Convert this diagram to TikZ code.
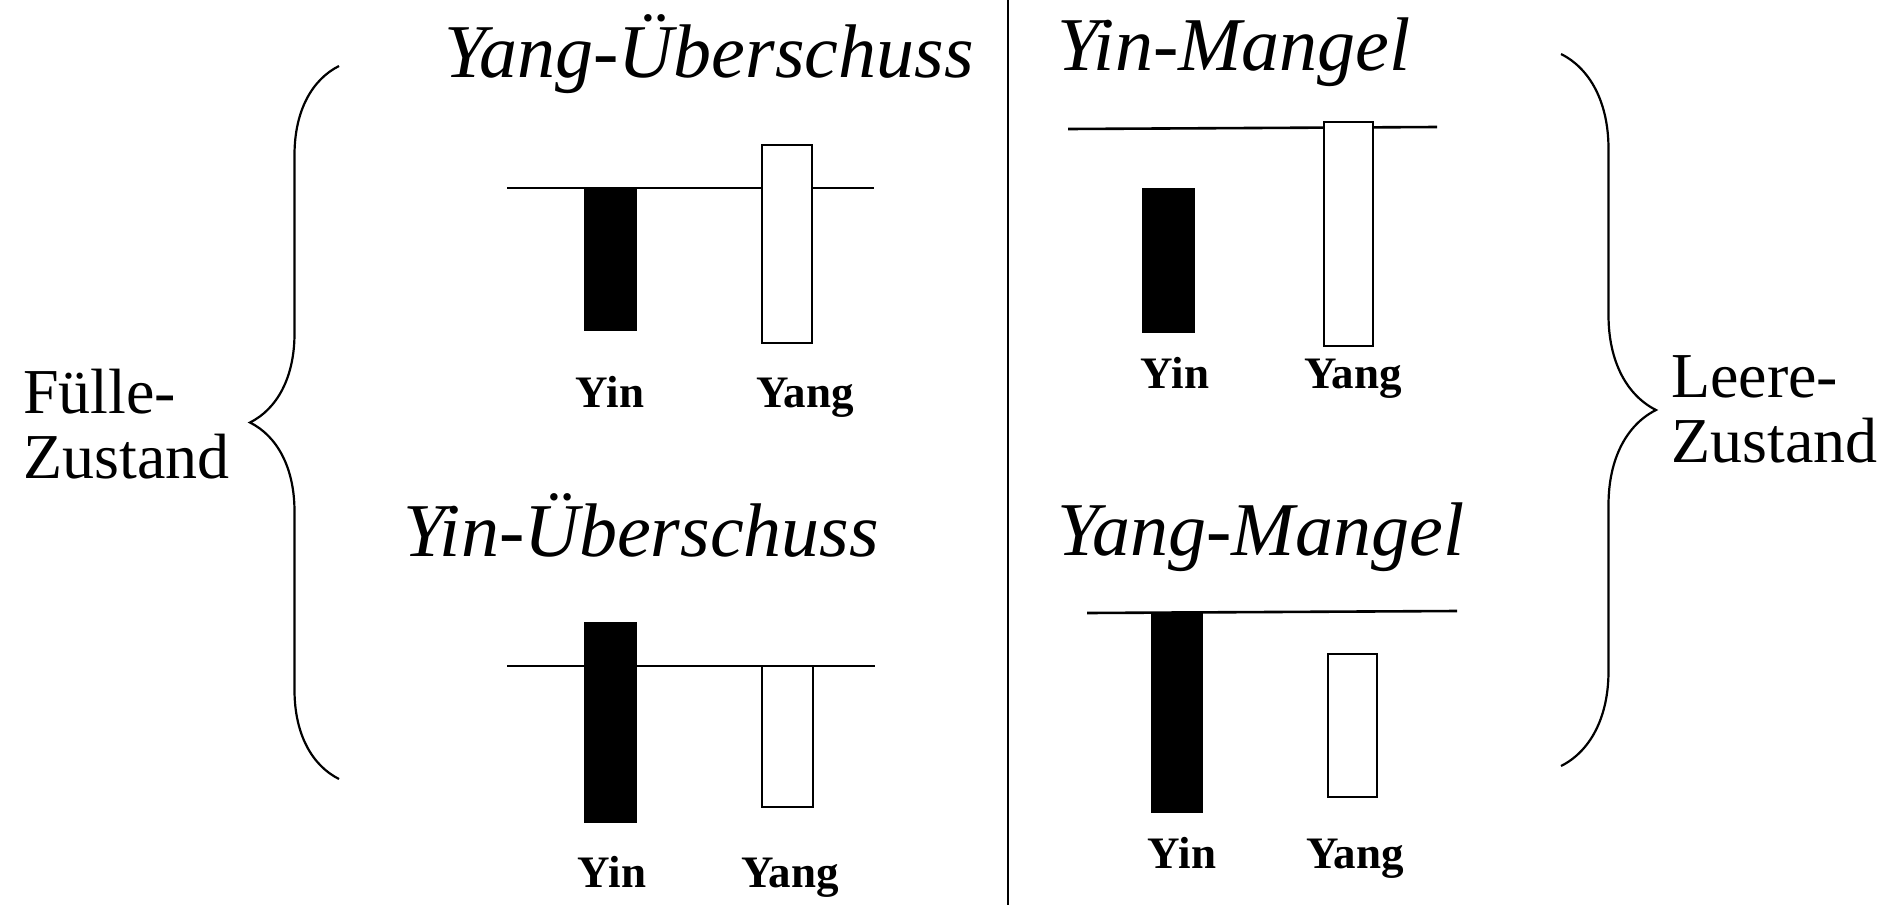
\documentclass[tikz,border=0pt]{standalone}
\usepackage{fontspec}
\setmainfont{Liberation Serif}
\usepackage{tikz}
\usetikzlibrary{decorations.pathreplacing}

\begin{document}
\begin{tikzpicture}[x=0.5pt,y=-0.5pt,line width=1.3pt,
                    inner sep=0pt]
  \tikzstyle{title}=[anchor=base west,font=\fontsize{38}{42}\selectfont\itshape]
  \tikzstyle{bar label}=[anchor=base,font=\fontsize{22.5}{26}\selectfont\bfseries]
  \tikzstyle{state label}=[anchor=west,align=left,font=\fontsize{32}{32.5}\selectfont]
  \tikzstyle{yin bar}=[draw,fill=black]
  \tikzstyle{yang bar}=[draw,fill=white]
  \tikzstyle{curly}=[line width=1.1pt,decorate]

  \useasboundingbox (0,0) rectangle (1886,905);
  \draw[line width=1.1pt] (1008,0) -- (1008,905);

  % Yang-Ueberschuss
  \node[title] (t1) at (443,77) {Yang-Überschuss};
  \draw (507,188) -- (874,188);
  \draw[yin bar] (585,188) rectangle (636,330);
  \draw[yang bar] (762,145) rectangle (812,343);
  \node[bar label] (yin1) at (610,407) {Yin};
  \node[bar label] (yang1) at (805,407) {Yang};

  % Yin-Mangel
  \node[title] (t2) at (1056,70) {Yin-Mangel};
  \draw (1068,129) -- (1437,127);
  \draw[yin bar] (1143,189) rectangle (1194,332);
  \draw[yang bar] (1324,122) rectangle (1373,346);
  \node[bar label] (yin2) at (1175,388) {Yin};
  \node[bar label] (yang2) at (1353,388) {Yang};

  % Yin-Ueberschuss
  \node[title] (t3) at (402,556) {Yin-Überschuss};
  \draw (507,666) -- (875,666);
  \draw[yin bar] (585,623) rectangle (636,822);
  \draw[yang bar] (762,666) rectangle (813,807);
  \node[bar label] (yin3) at (612,887) {Yin};
  \node[bar label] (yang3) at (790,887) {Yang};

  % Yang-Mangel
  \node[title] (t4) at (1056,555) {Yang-Mangel};
  \draw (1087,613) -- (1457,611);
  \draw[yin bar] (1152,613) rectangle (1202,812);
  \draw[yang bar] (1328,654) rectangle (1377,797);
  \node[bar label] (yin4) at (1182,868) {Yin};
  \node[bar label] (yang4) at (1355,868) {Yang};

  % braces
  \coordinate (fbot) at (339,779);
  \coordinate (ftop) at (339,66);
  \coordinate (ltop) at (1561,54);
  \coordinate (lbot) at (1561,766);
  \draw[curly,decoration={brace,amplitude=44.5pt}] (fbot) -- (ftop);
  \draw[curly,decoration={brace,amplitude=47.5pt}] (ltop) -- (lbot);

  \node[state label] (fuelle) at (22,424) {Fülle-\\Zustand};
  \node[state label] (leere) at (1670,409) {Leere-\\Zustand};
\end{tikzpicture}
\end{document}
